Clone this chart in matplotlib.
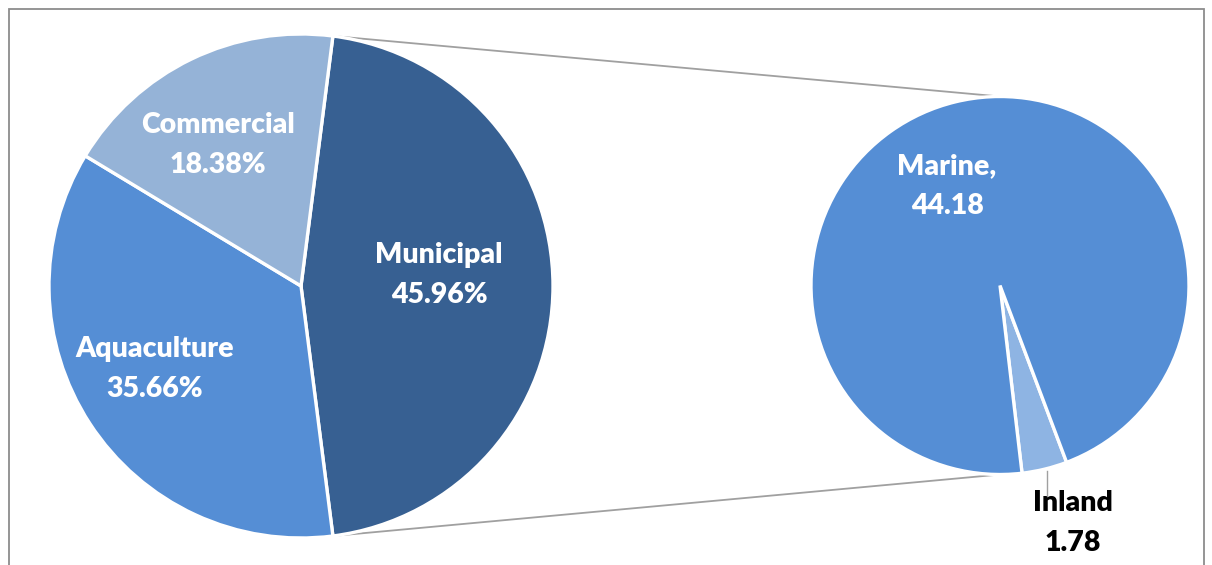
import matplotlib
matplotlib.use("Agg")
import matplotlib.pyplot as plt
import numpy as np

# Data
main_labels = ["Municipal", "Aquaculture", "Commercial"]
main_values = [45.96, 35.66, 18.38]
sub_labels = ["Inland", "Marine"]
sub_values = [1.78, 44.18]

main_colors = ["#376092", "#558ED5", "#95B3D7"]
sub_colors = ["#8EB4E3", "#558ED5"]

W, H = 1212, 565
fig = plt.figure(figsize=(W / 100, H / 100), dpi=100)
ax = fig.add_axes([0, 0, 1, 1])
ax.set_xlim(0, W)
ax.set_ylim(0, H)
ax.set_aspect("equal")
ax.axis("off")

font = "Lato"
fs = 20.5

# frame
ax.plot([8.5, 8.5, 1204, 1204], [0, H - 8.5, H - 8.5, 0], color="#8c8c8c", lw=1.3,
        solid_joinstyle="miter", zorder=1)

# main pie
c1 = (301, H - 286)
r1 = 252
start1 = main_values[0] / sum(main_values) * 180
wedges1, _ = ax.pie(main_values, colors=main_colors, startangle=start1, counterclock=False,
                    center=c1, radius=r1, frame=True,
                    wedgeprops=dict(edgecolor="white", linewidth=2.4))

# secondary pie
c2 = (1000, H - 285.5)
r2 = 189
wedges2, _ = ax.pie(sub_values, colors=sub_colors, startangle=-83.3, counterclock=True,
                    center=c2, radius=r2, frame=True,
                    wedgeprops=dict(edgecolor="white", linewidth=2.4))
ax.set_xlim(0, W)
ax.set_ylim(0, H)
ax.axis("off")

# connector lines from municipal slice edges to top/bottom of secondary pie
a_top = np.deg2rad(start1)
a_bot = np.deg2rad(-start1)
p_top = (c1[0] + r1 * np.cos(a_top), c1[1] + r1 * np.sin(a_top))
p_bot = (c1[0] + r1 * np.cos(a_bot), c1[1] + r1 * np.sin(a_bot))
ax.plot([p_top[0], c2[0]], [p_top[1], c2[1] + r2], color="#a0a0a0", lw=1.3, zorder=0.5)
ax.plot([p_bot[0], c2[0]], [p_bot[1], c2[1] - r2], color="#a0a0a0", lw=1.3, zorder=0.5)

# labels
def lbl(x, y, text, color="white"):
    ax.text(x, H - y, text, ha="center", va="center", fontsize=fs, fontweight="heavy",
            family=font, color=color, linespacing=1.62, zorder=5)

lbl(439, 275, f"{main_labels[0]}\n{main_values[0]:.2f}%")
lbl(155, 369, f"{main_labels[1]}\n{main_values[1]:.2f}%")
lbl(218, 145, f"{main_labels[2]}\n{main_values[2]:.2f}%")
lbl(947, 186, f"{sub_labels[1]},\n{sub_values[1]:.2f}")
lbl(1073, 523, f"{sub_labels[0]}\n{sub_values[0]:.2f}", color="black")

# leader line for Inland
ax.plot([1047, 1047], [H - 471, H - 498], color="#a0a0a0", lw=1.0, zorder=4)

fig.savefig("out.png", dpi=100)
